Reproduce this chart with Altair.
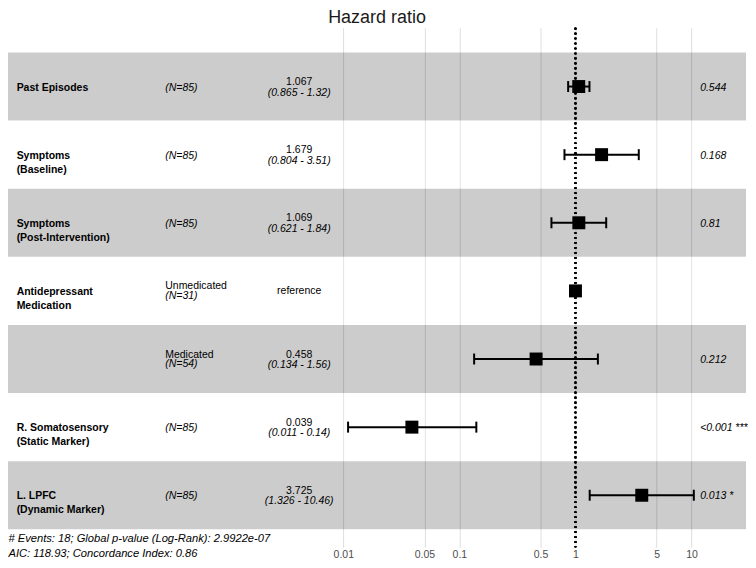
import altair as alt
import pandas as pd

# ---------------- data ----------------
var_line1 = ["Past Episodes", "Symptoms", "Symptoms", "Antidepressant", "", "R. Somatosensory", "L. LPFC"]
var_line2 = ["", "(Baseline)", "(Post-Intervention)", "Medication", "", "(Static Marker)", "(Dynamic Marker)"]
levels = ["", "", "", "Unmedicated", "Medicated", "", ""]
n_labels = ["(N=85)", "(N=85)", "(N=85)", "(N=31)", "(N=54)", "(N=85)", "(N=85)"]
hr = [1.067, 1.679, 1.069, 1.0, 0.458, 0.039, 3.725]
ci_low = [0.865, 0.804, 0.621, None, 0.134, 0.011, 1.326]
ci_high = [1.32, 3.51, 1.84, None, 1.56, 0.14, 10.46]
est_text = ["1.067", "1.679", "1.069", "reference", "0.458", "0.039", "3.725"]
ci_text = ["(0.865 - 1.32)", "(0.804 - 3.51)", "(0.621 - 1.84)", "", "(0.134 - 1.56)",
           "(0.011 - 0.14)", "(1.326 - 10.46)"]
p_text = ["0.544", "0.168", "0.81", "", "0.212", "<0.001 ***", "0.013 *"]
tick_values = [0.01, 0.05, 0.1, 0.5, 1, 5, 10]
footnotes = ["# Events: 18; Global p-value (Log-Rank): 2.9922e-07",
             "AIC: 118.93; Concordance Index: 0.86"]

n_rows = len(hr)
df = pd.DataFrame({
    "var1": var_line1, "var2": var_line2, "level": levels, "n": n_labels,
    "hr": hr, "lo": ci_low, "hi": ci_high, "est": est_text, "ci": ci_text, "p": p_text,
})
df["r"] = list(range(n_rows, 0, -1))
df["ylo"] = df["r"] - 0.5
df["yhi"] = df["r"] + 0.5
df["shade"] = ["dark" if i % 2 == 0 else "light" for i in range(n_rows)]

foot_df = pd.DataFrame({"txt": footnotes, "k": list(range(len(footnotes)))})

# ---------------- layout (log10 units on x, row units on y) ----------------
L_MIN, L_MAX = -4.888, 1.469
X_MIN, X_MAX = 10 ** L_MIN, 10 ** L_MAX
Y_DOM = [0.236, 7.864]
COL_VAR = 10 ** -4.8136
COL_N = 10 ** -3.5335
COL_EST = 10 ** -2.3797
COL_P = 10 ** 1.0739
COL_FOOT = 10 ** -4.884
FOOT_Y0 = 0.309
FOOT_STEP = 0.215

FONT = "Liberation Sans"
FS = 10.5

xscale = alt.Scale(type="log", domain=[X_MIN, X_MAX], nice=False)
yscale = alt.Scale(domain=Y_DOM, nice=False, zero=False)
Yr = alt.Y("r:Q", scale=yscale, axis=None)

base = alt.Chart(df)

bands = base.mark_rect(opacity=0.2).encode(
    x=alt.XDatum(X_MIN, type="quantitative", scale=xscale, title=None,
                 axis=alt.Axis(values=tick_values, format="~g", grid=True, gridColor="#dedede",
                               gridWidth=1, domain=False, ticks=False, labelFont=FONT,
                               labelFontSize=FS, labelColor="#4d4d4d", labelPadding=2,
                               labelFlush=False)),
    x2=alt.X2Datum(X_MAX),
    y=alt.Y("ylo:Q", scale=yscale, axis=None),
    y2="yhi:Q",
    color=alt.Color("shade:N", scale=alt.Scale(domain=["dark", "light"], range=["#000000", "#ffffff"]),
                    legend=None),
)

ref_line = alt.Chart(df).mark_rule(color="black", strokeWidth=1.7, strokeDash=[1.7, 3.3]).encode(
    x=alt.XDatum(1, type="quantitative", scale=xscale, title=None)
)

ci_df = base.transform_filter("isValid(datum.lo)")
bars = ci_df.mark_rule(color="black", strokeWidth=2).encode(
    x=alt.X("lo:Q", scale=xscale, title=None), x2="hi:Q", y=Yr
)
caps = ci_df.transform_fold(["lo", "hi"], as_=["end", "val"]).mark_tick(
    color="black", orient="vertical", size=11, thickness=2, opacity=1
).encode(x=alt.X("val:Q", scale=xscale, title=None), y=Yr)

points = base.mark_point(shape="square", filled=True, size=169, color="black", opacity=1).encode(
    x=alt.X("hr:Q", scale=xscale, title=None), y=Yr
)


def txt(data, col, field, dy, align="left", style="normal", weight="normal", filt=None):
    c = data
    if filt:
        c = c.transform_filter(filt)
    return c.mark_text(align=align, baseline="alphabetic", dy=dy, font=FONT, fontSize=FS,
                       fontStyle=style, fontWeight=weight, color="black").encode(
        x=alt.XDatum(col, type="quantitative", scale=xscale, title=None),
        y=Yr,
        text=alt.Text(f"{field}:N"),
    )


t_var1 = txt(base, COL_VAR, "var1", 4, weight="bold")
t_var2 = txt(base, COL_VAR, "var2", 18, weight="bold")
t_level = txt(base, COL_N, "level", -1.5, filt="datum.level != ''")
t_n_single = txt(base, COL_N, "n", 4, style="italic", filt="datum.level == ''")
t_n_level = txt(base, COL_N, "n", 8.5, style="italic", filt="datum.level != ''")
t_est = txt(base, COL_EST, "est", -1.5, align="center", filt="datum.est != 'reference'")
t_ref = txt(base, COL_EST, "est", 3.5, align="center", filt="datum.est == 'reference'")
t_ci = txt(base, COL_EST, "ci", 9, align="center", style="italic", filt="datum.ci != ''")
t_p = txt(base, COL_P, "p", 4, style="italic")

foot = alt.Chart(foot_df).transform_calculate(
    fy=f"{FOOT_Y0} - datum.k * {FOOT_STEP}"
).mark_text(align="left", baseline="alphabetic", font=FONT, fontSize=11.2, fontStyle="italic",
            color="black").encode(
    x=alt.XDatum(COL_FOOT, type="quantitative", scale=xscale, title=None),
    y=alt.Y("fy:Q", scale=yscale, axis=None),
    text="txt:N",
)

chart = alt.layer(
    bands, ref_line, bars, caps, points,
    t_var1, t_var2, t_level, t_n_single, t_n_level, t_est, t_ref, t_ci, t_p, foot,
).properties(
    width=740, height=521, padding=0,
    title=alt.TitleParams("Hazard ratio", font=FONT, fontSize=18, fontWeight="normal",
                          color="#1a1a1a", anchor="middle", offset=0),
).configure_view(stroke=None)

chart.save("out.html", embed_options={"renderer": "svg", "actions": False})
